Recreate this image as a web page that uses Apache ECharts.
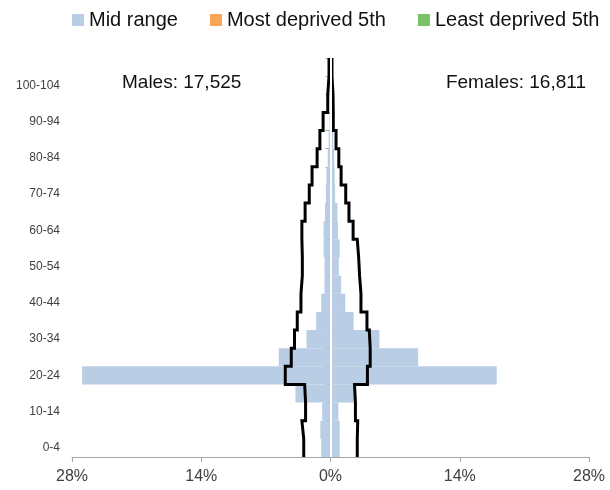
<!DOCTYPE html>
<html>
<head>
<meta charset="utf-8">
<script src="https://cdn.jsdelivr.net/npm/echarts@6/dist/echarts.min.js"></script>
<style>
html,body{margin:0;padding:0;background:#fff;}
#chart{width:610px;height:490px;}
</style>
</head>
<body>
<div id="chart"></div>
<script>
// Age groups (bottom to top)
const categories = ['0-4','5-9','10-14','15-19','20-24','25-29','30-34','35-39','40-44','45-49','50-54',
  '55-59','60-64','65-69','70-74','75-79','80-84','85-89','90-94','95-99','100-104','105+'];
// Mid range population share (%)
const maleMid   = [1.0,1.1,0.9,3.8,26.9,5.6,2.6,1.55,1.0,0.65,0.65,0.75,0.75,0.6,0.5,0.45,0.3,0.2,0.1,0.05,0,0];
const femaleMid = [1.0,1.0,0.85,2.7,18.0,9.5,5.3,2.5,1.6,1.15,0.9,1.0,0.8,0.75,0.5,0.45,0.4,0.3,0.2,0.1,0.05,0];
// Other series (no visible bars in the reference)
const mostDeprived = [];
const leastDeprived = [];
// Comparator outline (%)
const maleRef   = [2.9,3.1,2.7,2.8,4.9,4.25,3.9,3.6,3.2,3.05,3.05,3.1,3.1,2.75,2.3,2.0,1.45,1.15,0.8,0.3,0.16,0.16];
const femaleRef = [2.9,2.95,2.7,2.6,4.0,4.3,4.2,3.95,3.3,3.15,3.05,2.9,2.45,2.0,1.65,1.15,0.9,0.6,0.3,0.27,0.16,0.16];
const maleTotal = 'Males: 17,525';
const femaleTotal = 'Females: 16,811';

function steps(vals, sign){
  const pts = [];
  vals.forEach((v,i)=>{ pts.push([sign*v, i]); pts.push([sign*v, i+1]); });
  return pts;
}

const FONT = 'Liberation Sans, Arial, sans-serif';
const chart = echarts.init(document.getElementById('chart'), null, {renderer:'canvas'});
chart.setOption({
  animation:false,
  backgroundColor:'#fff',
  textStyle:{fontFamily:FONT},
  legend:{
    data:['Mid range','Most deprived 5th','Least deprived 5th'],
    left:67, top:5, itemWidth:12, itemHeight:12, itemGap:32, icon:'rect',
    textStyle:{fontSize:20, color:'#111', fontFamily:FONT}
  },
  grid:{left:72, right:21, top:58, bottom:33, containLabel:false},
  xAxis:{
    type:'value', min:-28, max:28, interval:14,
    axisLine:{show:true, lineStyle:{color:'#a6a6a6', width:1}},
    axisTick:{show:true, length:5, lineStyle:{color:'#a6a6a6'}},
    splitLine:{show:false},
    axisLabel:{fontSize:16, color:'#404040', margin:12, fontFamily:FONT,
      formatter:v=>Math.abs(v)+'%'}
  },
  yAxis:[{
    type:'category', data:categories, boundaryGap:true,
    axisLine:{show:true, lineStyle:{color:'#a6a6a6', width:1}},
    axisTick:{show:true, interval:0, length:5, lineStyle:{color:'#a6a6a6'}},
    axisLabel:{interval:1, fontSize:12, color:'#404040', margin:12, fontFamily:FONT},
    splitLine:{show:false}
  },{
    type:'value', min:0, max:categories.length, show:false
  }],
  series:[
    {name:'Mid range', type:'bar', stack:'pop', barCategoryGap:'0%', itemStyle:{color:'#b9cde5'},
     data:maleMid.map(v=>-v), z:1},
    {name:'Mid range', type:'bar', stack:'pop', barCategoryGap:'0%', itemStyle:{color:'#b9cde5'},
     data:femaleMid, z:1},
    {name:'Most deprived 5th', type:'bar', stack:'pop', barCategoryGap:'0%', itemStyle:{color:'#f9a65a'},
     data:mostDeprived, z:1},
    {name:'Least deprived 5th', type:'bar', stack:'pop', barCategoryGap:'0%', itemStyle:{color:'#7cc26c'},
     data:leastDeprived, z:1},
    {name:'ref-m', type:'line', yAxisIndex:1, data:steps(maleRef,-1), symbol:'none',
     lineStyle:{color:'#000', width:3, join:'miter'}, z:3, silent:true},
    {name:'ref-f', type:'line', yAxisIndex:1, data:steps(femaleRef,1), symbol:'none',
     lineStyle:{color:'#000', width:3, join:'miter'}, z:3, silent:true},
    {name:'zero', type:'line', yAxisIndex:1, data:[], z:5, silent:true,
     markLine:{silent:true, symbol:'none', label:{show:false}, z:10,
       lineStyle:{color:'#ffffff', width:2, type:'solid'}, data:[{xAxis:0}]}}
  ],
  graphic:[
    {type:'text', x:122, y:83, style:{text:maleTotal, fontSize:19, fontFamily:FONT, fill:'#111',
      textAlign:'left', textVerticalAlign:'middle'}},
    {type:'text', x:586, y:83, style:{text:femaleTotal, fontSize:19, fontFamily:FONT, fill:'#111',
      textAlign:'right', textVerticalAlign:'middle'}}
  ]
});
</script>
</body>
</html>
